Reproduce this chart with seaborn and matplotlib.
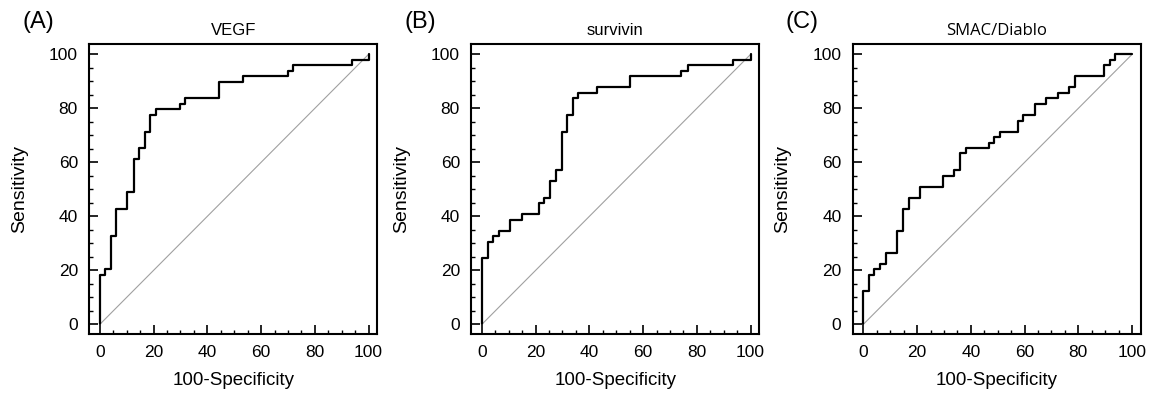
import matplotlib
matplotlib.use("Agg")
import matplotlib.pyplot as plt
from matplotlib.ticker import MultipleLocator
import seaborn as sns
import pandas as pd

# ROC step corners: false positive rate (100-Specificity) where sensitivity jumps
vegf_fpr = [0, 0, 1.9, 4.0, 5.9, 10.3, 12.6, 14.6, 16.7, 18.8, 21.0, 29.7, 31.7,
            44.3, 53.2, 70.2, 71.9, 93.8, 100]
vegf_sens = [0, 18.4, 20.4, 32.7, 42.9, 49.0, 61.2, 65.3, 71.4, 77.6, 79.6, 81.6, 83.7,
             89.8, 91.8, 93.9, 95.9, 98.0, 100]

survivin_fpr = [0, 0, 2.2, 4.3, 6.3, 10.5, 14.9, 21.2, 23.2, 25.4, 27.6, 29.7, 31.8,
                33.9, 35.9, 42.7, 55.2, 74.2, 76.6, 93.5, 100]
survivin_sens = [0, 24.5, 30.6, 32.7, 34.7, 38.8, 40.8, 44.9, 46.9, 53.1, 57.1, 71.4, 77.6,
                 83.7, 85.7, 87.8, 91.8, 93.9, 95.9, 98.0, 100]

smac_fpr = [0, 0, 2.1, 4.1, 6.2, 8.3, 12.7, 14.9, 17.0, 21.0, 29.7, 33.9, 35.9, 38.1,
            46.7, 48.6, 51.0, 57.4, 59.4, 63.9, 68.1, 72.4, 76.7, 78.8, 89.5, 91.6,
            93.7, 100]
smac_sens = [0, 12.2, 18.4, 20.4, 22.4, 26.5, 34.7, 42.9, 46.9, 51.0, 55.1, 57.1, 63.3,
             65.3, 67.3, 69.4, 71.4, 75.5, 77.6, 81.6, 83.7, 85.7, 87.8, 91.8, 95.9,
             98.0, 100, 100]

panels = [
    ("(A)", "VEGF", vegf_fpr, vegf_sens),
    ("(B)", "survivin", survivin_fpr, survivin_sens),
    ("(C)", "SMAC/Diablo", smac_fpr, smac_sens),
]

sns.set_style("white")
plt.rcParams["font.family"] = ["Liberation Sans", "DejaVu Sans"]
plt.rcParams["text.color"] = "black"
plt.rcParams["axes.labelcolor"] = "black"
plt.rcParams["xtick.color"] = "black"
plt.rcParams["ytick.color"] = "black"

fig = plt.figure(figsize=(11.49, 3.96), dpi=100)
lefts = [0.0775, 0.41, 0.742]
width = 0.251
bottom, height = 0.157, 0.731

for left, (tag, title, fpr, sens) in zip(lefts, panels):
    ax = fig.add_axes([left, bottom, width, height])
    df = pd.DataFrame({"fpr": fpr, "sens": sens})

    # chance diagonal
    sns.lineplot(data=pd.DataFrame({"fpr": [0, 100], "sens": [0, 100]}), x="fpr", y="sens",
                 color="#a0a0a0", linewidth=0.8, ax=ax)
    sns.lineplot(data=df, x="fpr", y="sens", estimator=None, sort=False,
                 drawstyle="steps-post", color="black", linewidth=1.6, ax=ax)

    ax.set_xlim(-4, 103.3)
    ax.set_ylim(-3.5, 103.7)
    ax.xaxis.set_major_locator(MultipleLocator(20))
    ax.yaxis.set_major_locator(MultipleLocator(20))
    ax.xaxis.set_minor_locator(MultipleLocator(5))
    ax.yaxis.set_minor_locator(MultipleLocator(5))
    ax.tick_params(which="major", direction="in", length=6.5, width=1.2,
                   labelsize=12.5, bottom=True, left=True, top=False, right=False)
    ax.tick_params(which="minor", direction="in", length=3, width=1.0,
                   bottom=True, left=True, top=False, right=False)
    ax.tick_params(axis="x", which="major", pad=8)
    ax.tick_params(axis="y", which="major", pad=8)
    for s in ax.spines.values():
        s.set_visible(True)
        s.set_linewidth(1.5)
        s.set_color("black")

    ax.set_xlabel("100-Specificity", fontsize=13.5, labelpad=9)
    ax.set_ylabel("Sensitivity", fontsize=14, labelpad=15)
    if title == "SMAC/Diablo":
        ax.set_title(title, fontsize=12, family=["Open Sans", "DejaVu Sans"], pad=7)
    else:
        ax.set_title(title, fontsize=12, pad=7)
    fig.text(left - 0.058, 0.945, tag, fontsize=17, ha="left", va="center")

fig.savefig("out.png", dpi=100)
